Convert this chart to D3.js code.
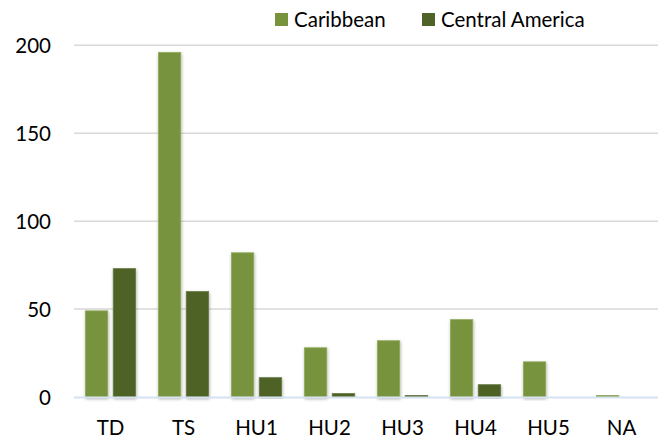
<!DOCTYPE html>
<html>
<head>
<meta charset="utf-8">
<script src="https://cdn.jsdelivr.net/npm/d3@7.9.0/dist/d3.min.js"></script>
<style>
  html, body { margin: 0; padding: 0; background: #fff; }
  svg { display: block; font-family: Lato, "Noto Sans", sans-serif; }
</style>
</head>
<body>
<div id="chart"></div>
<script>
// ---- data ----
const categories = ['TD', 'TS', 'HU1', 'HU2', 'HU3', 'HU4', 'HU5', 'NA'];
const seriesNames = ['Caribbean', 'Central America'];
const caribbean = [49, 196, 82, 28, 32, 44, 20, 1];
const centralAmerica = [73, 60, 11, 2, 1, 7, 0, 0];
const yTicks = [0, 50, 100, 150, 200];
const colors = ['#77933c', '#4f6228'];

const width = 665, height = 439;
const margin = { top: 45, right: 7, bottom: 42, left: 74 };
const fontSize = 20.5;

const svg = d3.select('#chart').append('svg')
  .attr('width', width)
  .attr('height', height);

// soft drop shadow like the office chart
const defs = svg.append('defs');
const shadow = defs.append('filter').attr('id', 'shadow')
  .attr('x', '-20%').attr('y', '-5%').attr('width', '150%').attr('height', '115%');
shadow.append('feDropShadow')
  .attr('dx', 0.5).attr('dy', 1.5).attr('stdDeviation', 1.4)
  .attr('flood-color', '#000').attr('flood-opacity', 0.35);

const x0 = d3.scaleBand()
  .domain(categories)
  .range([margin.left, width - margin.right])
  .paddingInner(0.311)
  .paddingOuter(0.1555);

const x1 = d3.scaleBand()
  .domain(seriesNames)
  .range([0, x0.bandwidth()])
  .paddingInner(0.196);

const y = d3.scaleLinear()
  .domain([0, 200])
  .range([height - margin.bottom, margin.top + 0.3]);

// gridlines
svg.append('g')
  .selectAll('line')
  .data(yTicks.filter(d => d > 0))
  .join('line')
  .attr('x1', margin.left)
  .attr('x2', width - margin.right)
  .attr('y1', d => y(d))
  .attr('y2', d => y(d))
  .attr('stroke', '#d9d9d9')
  .attr('stroke-width', 1.5);

// y labels
const yAxis = d3.axisLeft(y).tickValues(yTicks).tickSize(0).tickPadding(23);
const yg = svg.append('g')
  .attr('transform', `translate(${margin.left},0)`)
  .call(yAxis);
yg.select('.domain').remove();
yg.selectAll('text')
  .attr('font-size', fontSize)
  .attr('font-family', 'Lato, "Noto Sans", sans-serif')
  .attr('fill', '#000')
  .attr('dy', '0.36em');

// bars
const groups = svg.append('g')
  .selectAll('g')
  .data(categories)
  .join('g')
  .attr('transform', d => `translate(${x0(d)},0)`);

groups.selectAll('rect')
  .data((d, i) => [
    { key: seriesNames[0], value: caribbean[i] },
    { key: seriesNames[1], value: centralAmerica[i] }
  ])
  .join('rect')
  .filter(d => d.value > 0)
  .attr('x', d => x1(d.key))
  .attr('y', d => y(d.value))
  .attr('width', x1.bandwidth())
  .attr('height', d => y(0) - y(d.value))
  .attr('fill', d => d.key === seriesNames[0] ? colors[0] : colors[1])
  .attr('stroke', d => d.key === seriesNames[0] ? '#93ad62' : '#6a7d47')
  .attr('stroke-width', 0.8)
  .attr('filter', 'url(#shadow)');

// zero line
svg.append('line')
  .attr('x1', margin.left)
  .attr('x2', width - margin.right)
  .attr('y1', y(0) + 0.5)
  .attr('y2', y(0) + 0.5)
  .attr('stroke', '#d6e1f1')
  .attr('stroke-width', 2);

// x labels
const xAxis = d3.axisBottom(x0).tickSize(0).tickPadding(23);
const xg = svg.append('g')
  .attr('transform', `translate(0,${y(0)})`)
  .call(xAxis);
xg.select('.domain').remove();
xg.selectAll('text')
  .attr('font-size', fontSize)
  .attr('font-family', 'Lato, "Noto Sans", sans-serif')
  .attr('fill', '#000');

// legend
const legendPos = [275, 422];
const legend = svg.append('g')
  .selectAll('g')
  .data(seriesNames)
  .join('g')
  .attr('transform', (d, i) => `translate(${legendPos[i]},13)`);
legend.append('rect')
  .attr('width', 13)
  .attr('height', 13)
  .attr('fill', (d, i) => colors[i]);
legend.append('text')
  .attr('x', 19)
  .attr('y', 14)
  .attr('font-size', fontSize)
  .attr('fill', '#000')
  .text(d => d);
</script>
</body>
</html>
